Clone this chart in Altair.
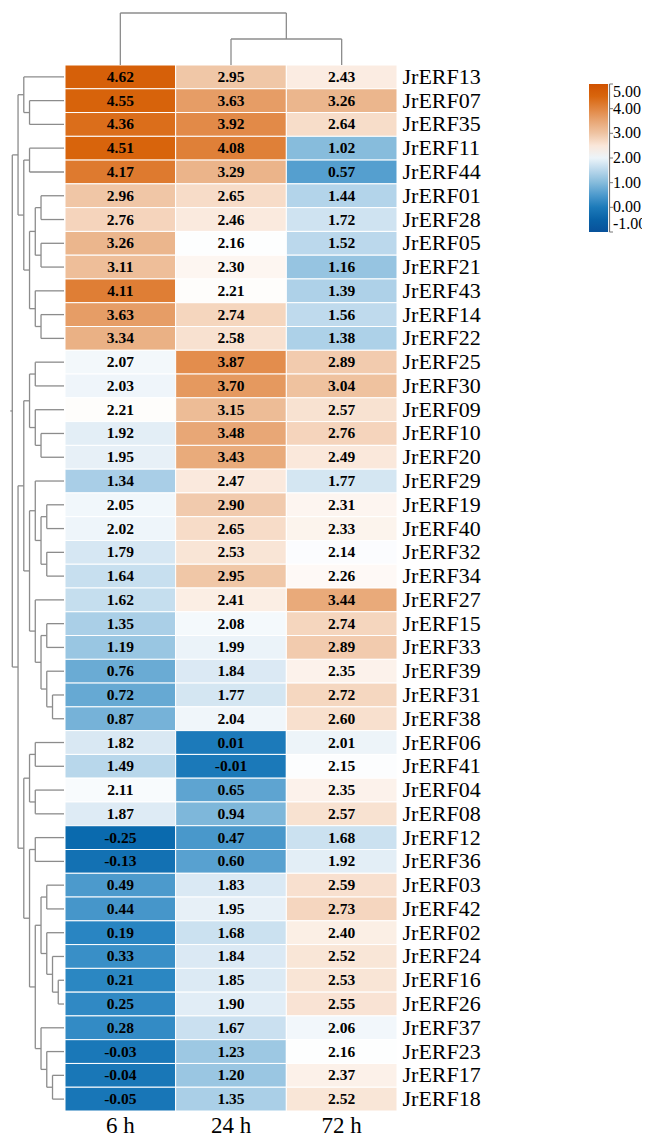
import altair as alt
import pandas as pd

genes = ["JrERF13", "JrERF07", "JrERF35", "JrERF11", "JrERF44", "JrERF01", "JrERF28", "JrERF05",
         "JrERF21", "JrERF43", "JrERF14", "JrERF22", "JrERF25", "JrERF30", "JrERF09", "JrERF10",
         "JrERF20", "JrERF29", "JrERF19", "JrERF40", "JrERF32", "JrERF34", "JrERF27", "JrERF15",
         "JrERF33", "JrERF39", "JrERF31", "JrERF38", "JrERF06", "JrERF41", "JrERF04", "JrERF08",
         "JrERF12", "JrERF36", "JrERF03", "JrERF42", "JrERF02", "JrERF24", "JrERF16", "JrERF26",
         "JrERF37", "JrERF23", "JrERF17", "JrERF18"]
cols = ["6 h", "24 h", "72 h"]
v6 = [4.62, 4.55, 4.36, 4.51, 4.17, 2.96, 2.76, 3.26, 3.11, 4.11, 3.63, 3.34, 2.07, 2.03, 2.21, 1.92,
      1.95, 1.34, 2.05, 2.02, 1.79, 1.64, 1.62, 1.35, 1.19, 0.76, 0.72, 0.87, 1.82, 1.49, 2.11, 1.87,
      -0.25, -0.13, 0.49, 0.44, 0.19, 0.33, 0.21, 0.25, 0.28, -0.03, -0.04, -0.05]
v24 = [2.95, 3.63, 3.92, 4.08, 3.29, 2.65, 2.46, 2.16, 2.30, 2.21, 2.74, 2.58, 3.87, 3.70, 3.15, 3.48,
       3.43, 2.47, 2.90, 2.65, 2.53, 2.95, 2.41, 2.08, 1.99, 1.84, 1.77, 2.04, 0.01, -0.01, 0.65, 0.94,
       0.47, 0.60, 1.83, 1.95, 1.68, 1.84, 1.85, 1.90, 1.67, 1.23, 1.20, 1.35]
v72 = [2.43, 3.26, 2.64, 1.02, 0.57, 1.44, 1.72, 1.52, 1.16, 1.39, 1.56, 1.38, 2.89, 3.04, 2.57, 2.76,
       2.49, 1.77, 2.31, 2.33, 2.14, 2.26, 3.44, 2.74, 2.89, 2.35, 2.72, 2.60, 2.01, 2.15, 2.35, 2.57,
       1.68, 1.92, 2.59, 2.73, 2.40, 2.52, 2.53, 2.55, 2.06, 2.16, 2.37, 2.52]

# dendrograms: [merge level, left, right]; leaves are row / column indices
row_tree = [9,
    [8, [7, 0, [6, 1, 2]],
        [7, [6, 3, 4], [6, [5, [4, 5, 6], [4, 7, 8]], [5, 9, [4, 10, 11]]]]],
    [8, [7, [6, [5, 12, 13], [5, 14, [4, 15, 16]]],
            [6, [5, 17, [4, [3, 18, 19], [3, 20, 21]]],
                [5, 22, [4, [3, 23, 24], [3, 25, [2, 26, 27]]]]]],
        [7, [6, [5, 28, 29], [5, 30, 31]],
            [6, [5, 32, 33],
                [5, [4, [3, 34, 35], [3, 36, [2, 37, [1, 38, 39]]]],
                    [4, 40, [3, 41, [2, 42, 43]]]]]]]]
col_tree = [2, 0, [1, 1, 2]]

legend_vals = [-1, 0, 1, 2, 3, 4, 5]
color_stops = [-1, -0.25, 0.2, 0.57, 1.02, 1.44, 1.85, 2.18, 2.65, 2.96, 3.29, 3.92, 4.51, 5]
color_range = ["#08519a", "#0a6aae", "#2a86c2", "#559fcf", "#87bcdc", "#b3d4ea", "#dceaf4",
               "#ffffff", "#f7dcc8", "#f0c6a6", "#ebb48a", "#e28a48", "#d8640c", "#d05200"]

FONT = "Liberation Serif"
W, H = 332, 1046


def segments(node, out):
    if isinstance(node, int):
        return node + 0.5, 0
    h, l, r = node
    pl, hl = segments(l, out)
    pr, hr = segments(r, out)
    out.append(dict(h1=hl, h2=h, p1=pl, p2=pl))
    out.append(dict(h1=hr, h2=h, p1=pr, p2=pr))
    out.append(dict(h1=h, h2=h, p1=pl, p2=pr))
    return (pl + pr) / 2, h


row_segs = []
rp, rh = segments(row_tree, row_segs)
row_segs.append(dict(h1=rh, h2=rh + 0.35, p1=rp, p2=rp))
col_segs = []
segments(col_tree, col_segs)

rows = []
for i, g in enumerate(genes):
    for c, vals in zip(cols, [v6, v24, v72]):
        rows.append(dict(gene=g, col=c, v=vals[i], lab=f"{vals[i]:.2f}"))
df = pd.DataFrame(rows)

xenc = alt.X("col:N", sort=cols, title=None,
             axis=alt.Axis(orient="bottom", labelAngle=0, domain=False, ticks=False, tickSize=0,
                           labelFont=FONT, labelFontSize=23, labelColor="black", labelPadding=3))
yenc = alt.Y("gene:N", sort=genes, title=None,
             axis=alt.Axis(orient="right", domain=False, ticks=False, tickSize=0,
                           labelFont=FONT, labelFontSize=22, labelColor="black", labelPadding=5))

heat = alt.Chart(df).mark_rect(stroke="white", strokeWidth=1).encode(
    x=xenc, y=yenc,
    color=alt.Color("v:Q",
                    scale=alt.Scale(domain=color_stops, range=color_range, interpolate="rgb"),
                    legend=alt.Legend(orient="none", legendX=524, legendY=19, direction="vertical",
                                      gradientLength=148, gradientThickness=19, values=legend_vals,
                                      labelExpr="replace(format(datum.value, '.2f'), '\u2212', '-')",
                                      labelFont=FONT, labelFontSize=16, labelColor="black",
                                      labelOffset=5, labelOverlap=False, title=None, padding=0,
                                      gradientStrokeWidth=0)))
txt = alt.Chart(df).mark_text(font=FONT, fontSize=15.5, fontWeight="bold", color="black",
                              baseline="middle").encode(
    x=alt.X("col:N", sort=cols), y=alt.Y("gene:N", sort=genes), text="lab:N")
heat_layer = alt.layer(heat, txt)

line_col = "#8c8c8c"
rtree = alt.Chart(pd.DataFrame(row_segs)).mark_rule(color=line_col, strokeWidth=1.3).encode(
    x=alt.X("h1:Q", scale=alt.Scale(domain=[0, 9], range=[-1, -52.7], nice=False, zero=False), axis=None),
    x2="h2:Q",
    y=alt.Y("p1:Q", scale=alt.Scale(domain=[0, 44], range=[0, H], nice=False, zero=False), axis=None),
    y2="p2:Q")
ctree = alt.Chart(pd.DataFrame(col_segs)).mark_rule(color=line_col, strokeWidth=1.3).encode(
    x=alt.X("p1:Q", scale=alt.Scale(domain=[0, 3], range=[0, W], nice=False, zero=False), axis=None),
    x2="p2:Q",
    y=alt.Y("h1:Q", scale=alt.Scale(domain=[0, 2], range=[0, -52], nice=False, zero=False), axis=None),
    y2="h2:Q")

# legend tick marks
lt = pd.DataFrame(dict(t=legend_vals))
lticks = alt.Chart(lt).mark_rule(color="#777777", strokeWidth=1).encode(
    x=alt.value(544.5), x2=alt.value(548),
    y=alt.Y("t:Q", scale=alt.Scale(domain=[-1, 5], range=[167, 19], nice=False, zero=False), axis=None))
lline = alt.Chart(pd.DataFrame(dict(lo=[-1], hi=[5]))).mark_rule(color="#777777", strokeWidth=1.2).encode(
    x=alt.value(544.5),
    y=alt.Y("lo:Q", scale=alt.Scale(domain=[-1, 5], range=[167, 19], nice=False, zero=False), axis=None),
    y2="hi:Q")

chart = alt.layer(heat_layer, rtree, ctree, lticks, lline).resolve_scale(
    x="independent", y="independent"
).properties(
    width=W, height=H, autosize="none",
    padding={"left": 57, "top": 57, "right": 245, "bottom": 26},
    background="white"
).configure_view(stroke=None)

chart.save("out.html", embed_options={"renderer": "svg", "actions": False})
